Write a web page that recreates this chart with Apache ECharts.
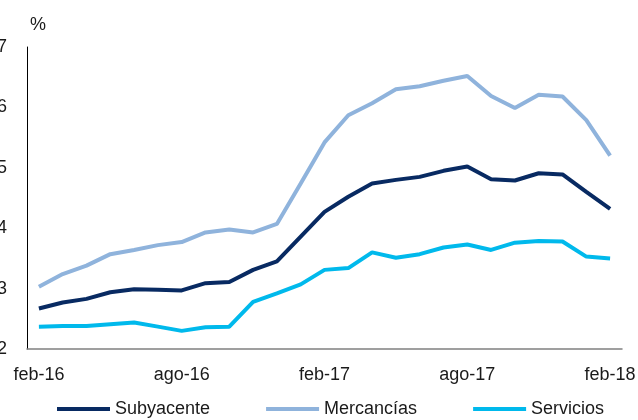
<!DOCTYPE html>
<html>
<head>
<meta charset="utf-8">
<script src="https://cdn.jsdelivr.net/npm/echarts@6/dist/echarts.min.js"></script>
<style>html,body{margin:0;padding:0;background:#fff}#c{width:638px;height:420px}</style>
</head>
<body>
<div id="c"></div>
<script>
const categories = ['feb-16','mar-16','abr-16','may-16','jun-16','jul-16','ago-16','sep-16','oct-16','nov-16','dic-16','ene-17',
  'feb-17','mar-17','abr-17','may-17','jun-17','jul-17','ago-17','sep-17','oct-17','nov-17','dic-17','ene-18','feb-18'];
const subyacente = [2.67,2.77,2.83,2.94,2.99,2.98,2.97,3.09,3.11,3.31,3.45,3.86,4.27,4.52,4.74,4.80,4.85,4.95,5.02,4.81,4.79,4.91,4.89,4.60,4.32];
const mercancias = [3.03,3.24,3.38,3.57,3.64,3.72,3.77,3.93,3.98,3.93,4.07,4.74,5.42,5.87,6.07,6.30,6.35,6.44,6.52,6.19,5.99,6.21,6.18,5.79,5.20];
const servicios  = [2.37,2.38,2.38,2.41,2.44,2.37,2.30,2.36,2.37,2.78,2.92,3.07,3.31,3.34,3.60,3.51,3.57,3.68,3.73,3.64,3.76,3.79,3.78,3.53,3.50];
const seriesNames = ['Subyacente','Mercancías','Servicios'];
const yTicks = [2,3,4,5,6,7];

const font = '"Liberation Sans", Arial, sans-serif';
const colors = ['#082A62','#8FB3DC','#00B9EC'];
const chart = echarts.init(document.getElementById('c'), null, {renderer:'canvas'});
const mk = (name, data, i) => ({
  name, type:'line', data, symbol:'none', smooth:false,
  lineStyle:{width:4, color:colors[i]}, itemStyle:{color:colors[i]}
});
chart.setOption({
  animation:false,
  textStyle:{fontFamily:font},
  grid:{left:27, right:16, top:47, bottom:71, containLabel:false, outerBoundsMode:'none'},
  xAxis:{
    type:'category', data:categories, boundaryGap:true,
    axisLine:{show:true, lineStyle:{color:'#808080', width:1.5}},
    axisTick:{show:false},
    axisLabel:{interval:5, color:'#1a1a1a', fontSize:18, fontFamily:font, margin:17}
  },
  yAxis:{
    type:'value', min:yTicks[0], max:yTicks[yTicks.length-1], interval:1,
    splitLine:{show:false},
    axisLine:{show:true, lineStyle:{color:'#000', width:1}},
    axisTick:{show:false},
    axisLabel:{color:'#1a1a1a', fontSize:18, fontFamily:font, margin:20}
  },
  graphic:[{type:'text', left:30, top:16, style:{text:'%', fontSize:18, fontFamily:font, fill:'#1a1a1a'}}],
  legend:{
    data:seriesNames, left:57, top:400, padding:0, icon:'rect', itemWidth:53, itemHeight:4, itemGap:56,
    textStyle:{fontSize:18, fontFamily:font, color:'#1a1a1a'}
  },
  series:[mk(seriesNames[0], subyacente, 0), mk(seriesNames[1], mercancias, 1), mk(seriesNames[2], servicios, 2)]
});
</script>
</body>
</html>
